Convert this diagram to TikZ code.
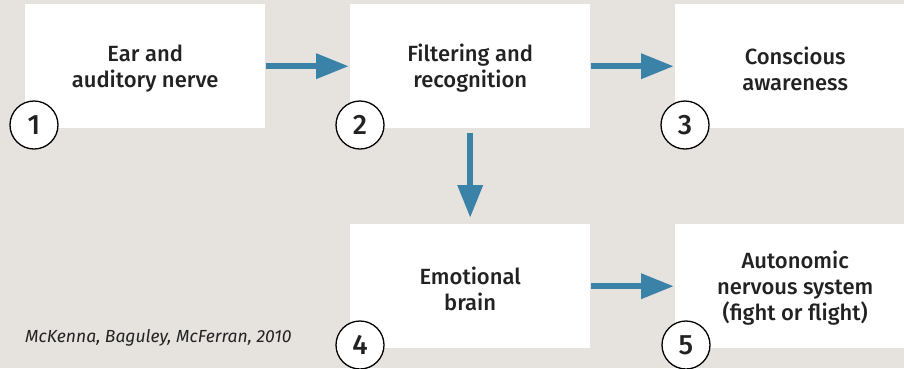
\documentclass[tikz,border=0pt]{standalone}
\usepackage{fontspec}
\setmainfont{Fira Sans}[BoldFont={Fira Sans Medium},BoldItalicFont={Fira Sans Medium Italic}]
\usetikzlibrary{arrows.meta}
\definecolor{bg}{HTML}{E6E3DF}
\definecolor{arr}{HTML}{3B82A8}
\definecolor{txt}{HTML}{222222}
\newcommand{\toppad}{\rule{0pt}{22pt}}
\begin{document}
\begin{tikzpicture}[x=1pt,y=-1pt,
  box/.style={fill=white,draw=none,minimum width=240pt,minimum height=124pt,anchor=north west,inner sep=0pt,
    align=center,font=\fontsize{22}{26}\selectfont\bfseries,text=txt},
  num/.style={circle,fill=white,draw=black,line width=1.3pt,minimum size=48pt,inner sep=0pt,
    font=\fontsize{28}{28}\selectfont\bfseries,text=txt},
  flow/.style={draw=arr,line width=6.5pt,-{Triangle[length=33pt,width=24pt]},shorten <=1pt,shorten >=1pt}]
\fill[bg] (0,0) rectangle (904,368);
\useasboundingbox (0,0) rectangle (904,368);
\node[box] (b1) at (25,4) {\toppad Ear and\\auditory nerve};
\node[box] (b2) at (350,4) {\toppad Filtering and\\recognition};
\node[box] (b3) at (675,4) {\toppad Conscious\\awareness};
\node[box] (b4) at (350,224) {\toppad Emotional\\brain};
\node[box] (b5) at (675,224) {\toppad Autonomic\\nervous system\\(fight or flight)};
\node[num] (n1) at (34,125) {1};
\node[num] (n2) at (360,125) {2};
\node[num] (n3) at (685,125) {3};
\node[num] (n4) at (360,345) {4};
\node[num] (n5) at (686,345) {5};
\draw[flow] (b1.east) -- (b2.west);
\draw[flow] (b2.east) -- (b3.west);
\draw[flow] (b4.east) -- (b5.west);
\draw[flow] ([xshift=0pt,yshift=-4pt]b2.south) -- ([yshift=5pt]b4.north);
\node[anchor=west,inner sep=0pt,font=\fontsize{17.5}{17.5}\selectfont\itshape,text=txt] (cite) at (25,338) {McKenna, Baguley, McFerran, 2010};
\end{tikzpicture}
\end{document}
